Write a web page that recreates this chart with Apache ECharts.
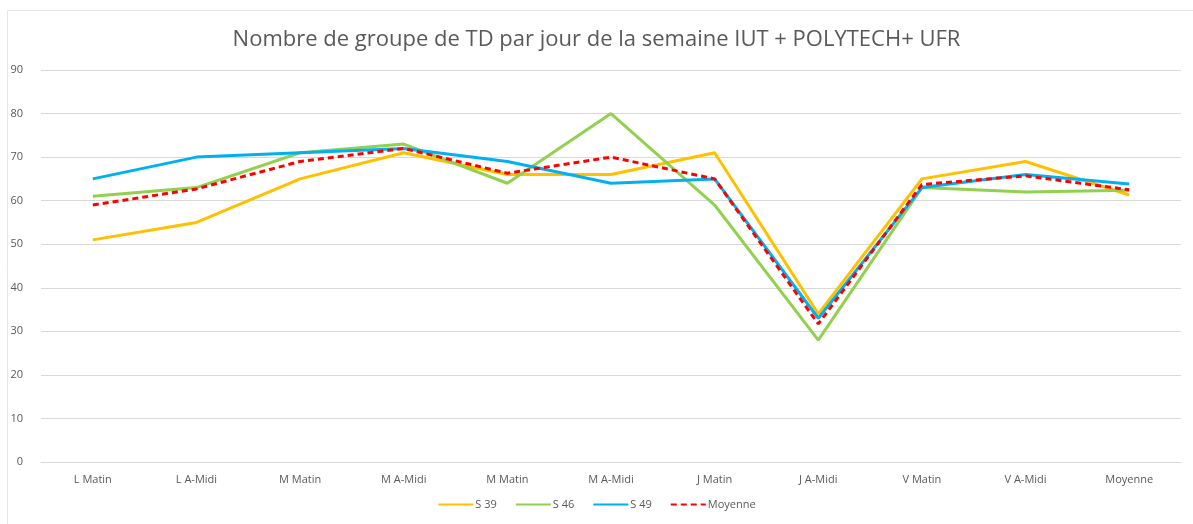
<!DOCTYPE html>
<html>
<head>
<meta charset="utf-8">
<script src="https://cdn.jsdelivr.net/npm/echarts@6/dist/echarts.min.js"></script>
<style>
html,body{margin:0;padding:0;background:#fff;}
#chart{width:1193px;height:524px;}
</style>
</head>
<body>
<div id="chart"></div>
<script>
const categories = ['L Matin','L A-Midi','M Matin','M A-Midi','M Matin','M A-Midi','J Matin','J A-Midi','V Matin','V A-Midi','Moyenne'];
const s39 = [51, 55, 65, 71, 66, 66, 71, 34, 65, 69, 61.3];
const s46 = [61, 63, 71, 73, 64, 80, 59, 28, 63, 62, 62.4];
const s49 = [65, 70, 71, 72, 69, 64, 65, 33, 63, 66, 63.8];
const moyenne = [59, 62.7, 69, 72, 66.3, 70, 65, 31.7, 63.7, 65.7, 62.5];
const seriesNames = ['S 39', 'S 46', 'S 49', 'Moyenne'];
const titleText = 'Nombre de groupe de TD par jour de la semaine IUT + POLYTECH+ UFR';

const chart = echarts.init(document.getElementById('chart'), null, {renderer: 'canvas'});
const font = '"Open Sans", "Liberation Sans", sans-serif';
function line(name, data, color, dashed) {
  return {
    name: name, type: 'line', data: data, symbol: 'none', smooth: false,
    lineStyle: {color: color, width: 3, type: dashed ? [6, 4] : 'solid'},
    itemStyle: {color: color},
    emphasis: {disabled: true}
  };
}
chart.setOption({
  animation: false,
  backgroundColor: '#fff',
  graphic: [{
    type: 'rect', silent: true, z: -1,
    shape: {x: 7.5, y: 10.5, width: 1300, height: 700},
    style: {fill: 'none', stroke: '#e6e6e6', lineWidth: 1}
  }],
  title: {
    text: titleText, left: 'center', top: 24,
    textStyle: {fontFamily: font, fontSize: 22, fontWeight: 'normal', color: '#595959'}
  },
  legend: {
    bottom: 9, left: 'center', itemWidth: 35, itemHeight: 12, itemGap: 18,
    itemStyle: {opacity: 0},
    data: seriesNames.map(n => ({name: n})),
    textStyle: {fontFamily: font, fontSize: 11, color: '#595959', padding: [0, 0, 0, -3]}
  },
  grid: {left: 41, right: 12, top: 70, bottom: 62, containLabel: false},
  xAxis: {
    type: 'category', data: categories, boundaryGap: true,
    axisLine: {show: true, lineStyle: {color: '#d9d9d9', width: 1}},
    axisTick: {show: false},
    axisLabel: {fontFamily: font, fontSize: 11, color: '#595959', margin: 12, interval: 0}
  },
  yAxis: {
    type: 'value', min: 0, max: 90, interval: 10,
    axisLine: {show: false}, axisTick: {show: false},
    splitLine: {lineStyle: {color: '#d9d9d9', width: 1}},
    axisLabel: {fontFamily: font, fontSize: 11, color: '#595959', margin: 18}
  },
  series: [
    line('S 39', s39, '#FFC000', false),
    line('S 46', s46, '#92D050', false),
    line('S 49', s49, '#00B0F0', false),
    line('Moyenne', moyenne, '#FF0000', true)
  ]
});
</script>
</body>
</html>
